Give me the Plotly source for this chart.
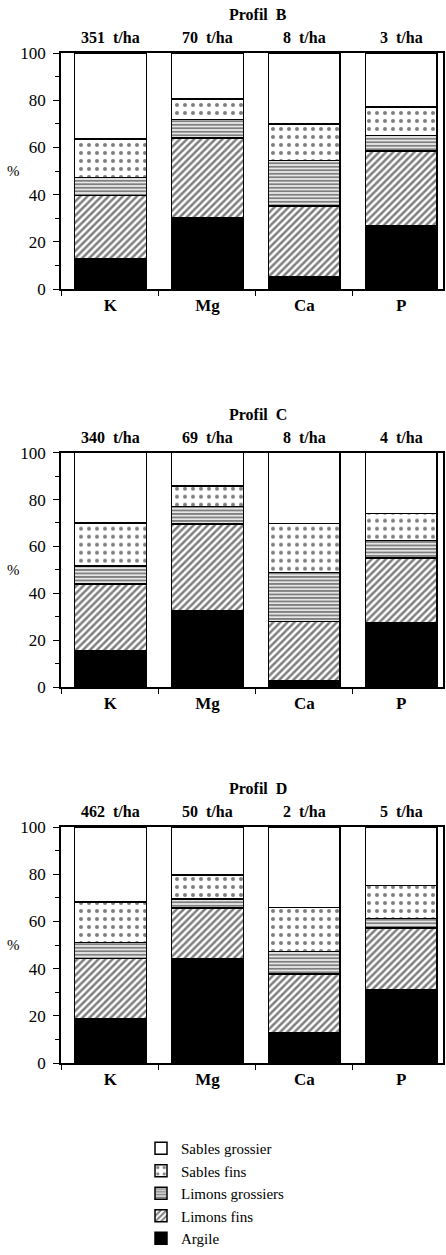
import plotly.graph_objects as go

categories = ["K", "Mg", "Ca", "P"]
profiles = ["Profil  B", "Profil  C", "Profil  D"]
series_names = ["Argile", "Limons fins", "Limons grossiers", "Sables fins", "Sables grossier"]

# tonnages (header labels)
tonnage_B = ["351  t/ha", "70  t/ha", "8  t/ha", "3  t/ha"]
tonnage_C = ["340  t/ha", "69  t/ha", "8  t/ha", "4  t/ha"]
tonnage_D = ["462  t/ha", "50  t/ha", "2  t/ha", "5  t/ha"]

# percentages per fraction (K, Mg, Ca, P)
B_argile = [12.7, 30.2, 5.4, 26.6]
B_limons_fins = [27.0, 33.8, 29.8, 31.9]
B_limons_grossiers = [7.5, 7.8, 19.3, 6.6]
B_sables_fins = [16.4, 8.8, 15.5, 12.0]
B_sables_grossier = [36.4, 19.4, 30.0, 22.9]

C_argile = [15.6, 32.7, 2.8, 27.3]
C_limons_fins = [28.3, 36.8, 25.2, 27.7]
C_limons_grossiers = [7.8, 7.5, 20.9, 7.5]
C_sables_fins = [18.3, 8.8, 20.8, 11.6]
C_sables_grossier = [30.0, 14.2, 30.3, 25.9]

D_argile = [18.8, 44.1, 12.9, 31.2]
D_limons_fins = [25.5, 21.5, 24.8, 25.9]
D_limons_grossiers = [6.7, 3.9, 9.5, 4.2]
D_sables_fins = [17.3, 10.2, 18.7, 13.9]
D_sables_grossier = [31.7, 20.3, 34.1, 24.8]

y_ticks = [0, 20, 40, 60, 80, 100]

data = [
    ([B_argile, B_limons_fins, B_limons_grossiers, B_sables_fins, B_sables_grossier], tonnage_B),
    ([C_argile, C_limons_fins, C_limons_grossiers, C_sables_fins, C_sables_grossier], tonnage_C),
    ([D_argile, D_limons_fins, D_limons_grossiers, D_sables_fins, D_sables_grossier], tonnage_D),
]

styles = {
    "Argile": dict(color="black", pattern=dict(shape="")),
    "Limons fins": dict(color="white", pattern=dict(shape="/", size=5, solidity=0.5, fgcolor="black", bgcolor="white", fillmode="overlay")),
    "Limons grossiers": dict(color="white", pattern=dict(shape="-", size=3.5, solidity=0.6, fgcolor="black", bgcolor="white", fillmode="overlay")),
    "Sables fins": dict(color="white", pattern=dict(shape=".", size=8, solidity=0.2, fgcolor="black", bgcolor="white", fillmode="overlay")),
    "Sables grossier": dict(color="white", pattern=dict(shape="")),
}

W = 446.0
H = 1255.0
# panel pixel extents in page coords (top, bottom)
panels_px = [(53, 289), (452.7, 687), (827, 1063)]
x_dom = [61 / W, 443 / W]

SERIF = "Liberation Serif, Times New Roman, serif"

fig = go.Figure()
annotations = []
for i, ((vals, tons), (ptop, pbot)) in enumerate(zip(data, panels_px)):
    xa = "x" if i == 0 else f"x{i+1}"
    ya = "y" if i == 0 else f"y{i+1}"
    for name, v in zip(series_names, vals):
        st = styles[name]
        fig.add_trace(go.Bar(
            x=categories, y=v, name=name, xaxis=xa, yaxis=ya,
            marker=dict(color=st["color"], pattern=st["pattern"],
                        line=dict(color="black", width=1.5)),
            showlegend=(i == 0), legendgroup=name,
        ))
    xkey = "xaxis" if i == 0 else f"xaxis{i+1}"
    ykey = "yaxis" if i == 0 else f"yaxis{i+1}"
    fig.update_layout(**{
        xkey: dict(domain=x_dom, anchor=ya, range=[-0.51, 3.43], showline=True, mirror=True,
                   linecolor="black", linewidth=1.8, ticks="outside", tickson="boundaries",
                   ticklen=5, tickcolor="black", showgrid=False, zeroline=False,
                   tickfont=dict(family=SERIF, size=17, color="black", weight="bold"),
                   automargin=False, fixedrange=True),
        ykey: dict(domain=[1 - pbot / H, 1 - ptop / H], anchor=xa, range=[0, 100],
                   tickvals=y_ticks, showline=True, mirror=True, linecolor="black",
                   linewidth=1.8, ticks="outside", ticklen=6, tickcolor="black",
                   ticklabelstandoff=4,
                   minor=dict(dtick=10, ticks="outside", ticklen=4, tickcolor="black"),
                   showgrid=False, zeroline=False,
                   tickfont=dict(family=SERIF, size=17, color="black"),
                   automargin=False, fixedrange=True),
    })
    dom_ref = f"{ya} domain"
    for j, t in enumerate(tons):
        annotations.append(dict(x=categories[j], y=1, xref=xa, yref=dom_ref, text=f"<b>{t}</b>",
                                showarrow=False, yanchor="bottom", yshift=5,
                                font=dict(family=SERIF, size=16, color="black")))
    annotations.append(dict(x=1.52, y=1, xref=xa, yref=dom_ref, text=f"<b>{profiles[i]}</b>",
                            showarrow=False, yanchor="bottom", yshift=28,
                            font=dict(family=SERIF, size=16, color="black")))
    annotations.append(dict(x=13 / W, y=0.5, xref="paper", yref=dom_ref, text="%",
                            xanchor="center", showarrow=False,
                            font=dict(family=SERIF, size=15, color="black")))

fig.update_layout(
    barmode="stack", bargap=0.26,
    width=W, height=H,
    margin=dict(l=0, r=0, t=0, b=0, autoexpand=False),
    plot_bgcolor="white", paper_bgcolor="white",
    annotations=annotations,
    hovermode=False,
    legend=dict(x=141 / W, y=0, xanchor="left", yanchor="bottom",
                traceorder="reversed", font=dict(family=SERIF, size=15, color="black"),
                bgcolor="rgba(0,0,0,0)", tracegroupgap=0, itemwidth=30),
)

fig.write_html(
    "out.html",
    config={"displayModeBar": False},
    post_script="document.body.style.margin='0';document.body.style.overflow='hidden';",
)
